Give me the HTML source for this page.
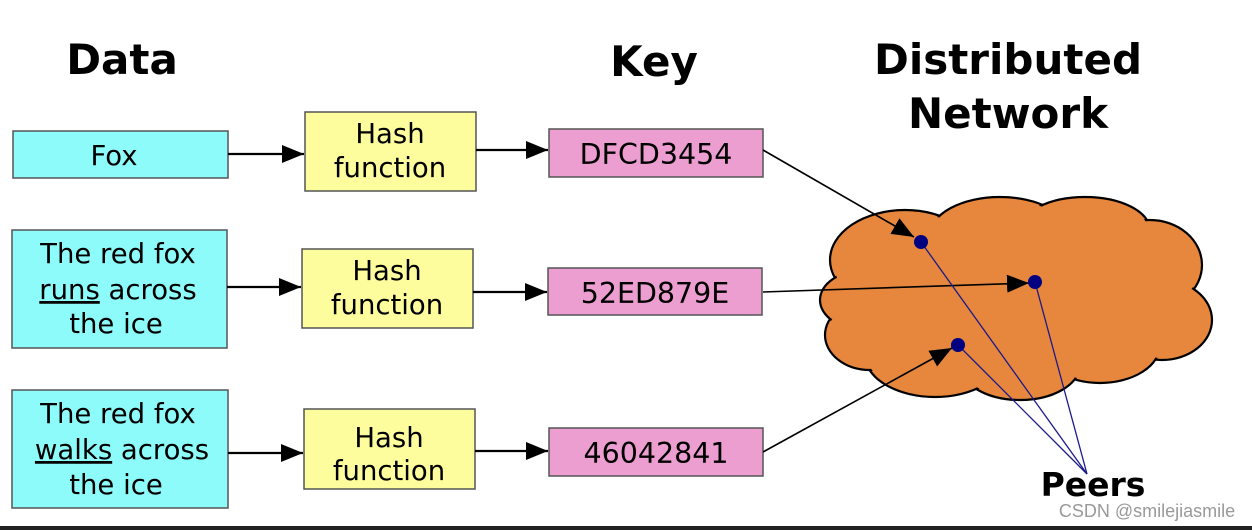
<!DOCTYPE html>
<html><head><meta charset="utf-8"><style>
html,body{margin:0;padding:0;background:#fff;}
svg{display:block;font-family:"DejaVu Sans","Liberation Sans",sans-serif;}
</style></head><body>
<svg width="1252" height="530" viewBox="0 0 1252 530" xmlns="http://www.w3.org/2000/svg">
<defs>
<marker id="ah2" markerWidth="22" markerHeight="18" refX="22" refY="9" orient="auto" markerUnits="userSpaceOnUse" viewBox="0 0 22 18">
<path d="M0,0 L22,9 L0,18 z" fill="#000"/></marker>
</defs>
<g font-weight="bold" font-size="42" text-anchor="middle" fill="#000">
<text x="122" y="74">Data</text>
<text x="654" y="76">Key</text>
<text x="1008" y="74">Distributed</text>
<text x="1008" y="128">Network</text>
</g>
<g stroke="#000" stroke-width="2.2" fill="#e6873d">
<ellipse cx="905" cy="260" rx="75" ry="50"/>
<ellipse cx="1000" cy="235" rx="70" ry="38"/>
<ellipse cx="1085" cy="230" rx="65" ry="33"/>
<ellipse cx="1150" cy="265" rx="52" ry="45"/>
<ellipse cx="1162" cy="320" rx="50" ry="40"/>
<ellipse cx="1100" cy="345" rx="60" ry="38"/>
<ellipse cx="1020" cy="365" rx="60" ry="35"/>
<ellipse cx="935" cy="355" rx="70" ry="42"/>
<ellipse cx="870" cy="335" rx="45" ry="35"/>
<ellipse cx="865" cy="300" rx="45" ry="30"/>
</g>
<g fill="#e6873d">
<ellipse cx="905" cy="260" rx="73" ry="48"/>
<ellipse cx="1000" cy="235" rx="68" ry="36"/>
<ellipse cx="1085" cy="230" rx="63" ry="31"/>
<ellipse cx="1150" cy="265" rx="50" ry="43"/>
<ellipse cx="1162" cy="320" rx="48" ry="38"/>
<ellipse cx="1100" cy="345" rx="58" ry="36"/>
<ellipse cx="1020" cy="365" rx="58" ry="33"/>
<ellipse cx="935" cy="355" rx="68" ry="40"/>
<ellipse cx="870" cy="335" rx="43" ry="33"/>
<ellipse cx="865" cy="300" rx="43" ry="28"/>
<ellipse cx="1010" cy="300" rx="150" ry="70"/>
</g>
<g stroke="#555" stroke-width="1.5">
<rect x="13" y="131" width="215" height="47" fill="#8efbfb"/>
<rect x="12" y="230" width="215" height="118" fill="#8efbfb"/>
<rect x="12" y="390" width="216" height="118" fill="#8efbfb"/>
<rect x="305" y="112" width="171" height="79" fill="#fdfd9e"/>
<rect x="302" y="249" width="171" height="79" fill="#fdfd9e"/>
<rect x="304" y="409" width="171" height="80" fill="#fdfd9e"/>
<rect x="549" y="129" width="214" height="48" fill="#eb9ecf"/>
<rect x="548" y="268" width="214" height="47" fill="#eb9ecf"/>
<rect x="549" y="428" width="214" height="48" fill="#eb9ecf"/>
</g>
<g stroke="#000" stroke-width="2.2">
<line x1="228" y1="154" x2="304" y2="154" marker-end="url(#ah2)"/>
<line x1="227" y1="287" x2="301" y2="287" marker-end="url(#ah2)"/>
<line x1="228" y1="453" x2="303" y2="453" marker-end="url(#ah2)"/>
<line x1="476" y1="150" x2="548" y2="150" marker-end="url(#ah2)"/>
<line x1="473" y1="292" x2="547" y2="292" marker-end="url(#ah2)"/>
<line x1="475" y1="451" x2="548" y2="451" marker-end="url(#ah2)"/>
</g>
<g stroke="#000" stroke-width="1.6">
<line x1="763" y1="150" x2="914" y2="237" marker-end="url(#ah2)"/>
<line x1="763" y1="292" x2="1029" y2="283" marker-end="url(#ah2)"/>
<line x1="763" y1="452" x2="952" y2="348" marker-end="url(#ah2)"/>
</g>
<g stroke="#1a1a8a" stroke-width="1.3">
<line x1="921" y1="242" x2="1087" y2="474"/>
<line x1="1035" y1="282" x2="1087" y2="474"/>
<line x1="958" y1="345" x2="1087" y2="474"/>
</g>
<g fill="#000080">
<circle cx="921" cy="242" r="7"/>
<circle cx="1035" cy="282" r="7"/>
<circle cx="958" cy="345" r="7"/>
</g>
<g font-size="27.5" text-anchor="middle" fill="#000">
<text x="114" y="165">Fox</text>
<text x="118" y="263">The red fox</text>
<text x="118" y="299"><tspan text-decoration="underline">runs</tspan> across</text>
<text x="116" y="333">the ice</text>
<text x="118" y="423">The red fox</text>
<text x="122" y="459"><tspan text-decoration="underline">walks</tspan> across</text>
<text x="116" y="494">the ice</text>
<text x="390" y="143">Hash</text>
<text x="390" y="177">function</text>
<text x="387" y="280">Hash</text>
<text x="387" y="314">function</text>
<text x="389" y="447">Hash</text>
<text x="389" y="480">function</text>
</g>
<g font-size="28.5" text-anchor="middle" fill="#000">
<text x="656" y="164">DFCD3454</text>
<text x="655" y="303">52ED879E</text>
<text x="656" y="463">46042841</text>
</g>
<text x="1093" y="496" font-size="33" font-weight="bold" text-anchor="middle">Peers</text>
<text x="1147" y="517" font-size="18" fill="#999" text-anchor="middle" font-family="Liberation Sans,sans-serif">CSDN @smilejiasmile</text>
<rect x="0" y="526" width="1252" height="4" fill="#222"/>
</svg>
</body></html>
